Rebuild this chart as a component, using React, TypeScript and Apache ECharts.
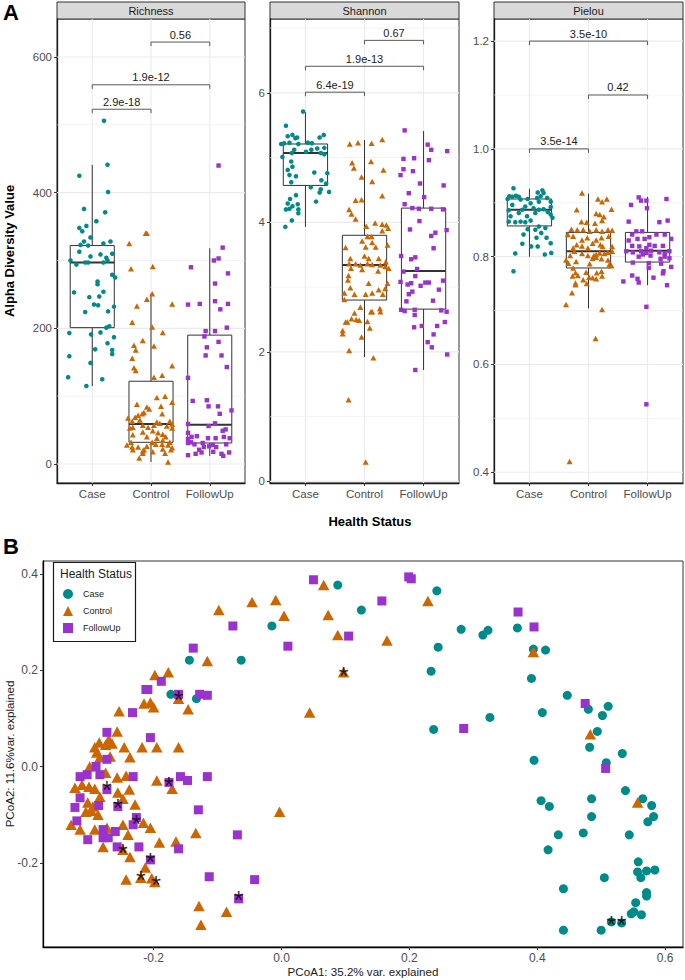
import React, { useEffect, useRef } from "react";
import * as echarts from "echarts";

const FONT = "'Liberation Sans', Arial, Helvetica, sans-serif";

const groups = ["Case", "Control", "FollowUp"];
const groupColors = ["#008B8B", "#CD6600", "#9A32CD"];
const groupSymbols = ["circle", "triangle", "rect"];
const facetNames = ["Richness", "Shannon", "Pielou"];

// ---------- Richness ----------
const richTicks = [0, 200, 400, 600];
const richMinor = [100, 300, 500];
// [q1, median, q3, lower whisker, upper whisker]
const richBox = [
  [201, 297, 322, 115, 441],
  [32, 59, 122, 3, 251],
  [31, 58, 190, 12, 318],
];
const richBrackets = [[1, 2, 523], [1, 3, 559], [2, 3, 622]];
const richBracketLabels = ["2.9e-18", "1.9e-12", "0.56"];
// [jitter, value]
const richCase = [[0.20,506],[0.26,441],[-0.22,425],[0.27,401],[-0.14,376],[0.22,371],[0.07,358],[-0.22,348],[-0.17,343],[-0.10,351],[-0.03,334],[-0.14,328],[-0.20,323],[-0.07,322],[0.19,325],[0.31,328],[-0.22,313],[-0.03,306],[0.14,309],[0.24,304],[0.34,310],[-0.37,300],[-0.27,294],[-0.12,297],[-0.07,297],[0.19,297],[0.26,300],[0.34,279],[0.39,275],[0.09,269],[0.09,265],[-0.31,253],[0.19,254],[-0.05,246],[0.12,247],[0.03,235],[0.10,234],[0.37,232],[-0.12,224],[0.27,225],[0.24,201],[0.29,203],[-0.39,193],[0.14,194],[-0.02,191],[0.37,187],[0.05,169],[0.26,178],[0.34,168],[0.34,162],[-0.39,159],[-0.03,149],[-0.41,128],[0.17,125],[-0.10,115]];
const richControl = [[-0.37,325],[-0.09,340],[-0.07,340],[-0.34,288],[0.03,291],[0.02,251],[-0.07,243],[0.36,236],[-0.24,233],[-0.32,209],[0.02,202],[0.20,194],[-0.14,182],[-0.29,175],[-0.26,168],[0.05,174],[-0.32,156],[-0.29,142],[-0.26,138],[0.36,145],[0.05,128],[0.19,131],[0.10,98],[0.24,100],[0.36,91],[-0.24,88],[0.17,85],[-0.07,84],[-0.03,81],[-0.12,76],[0.19,74],[-0.27,69],[-0.22,72],[-0.15,74],[-0.39,68],[-0.32,63],[-0.19,65],[0.10,62],[0.15,60],[0.32,63],[0.36,59],[-0.36,53],[-0.31,54],[-0.14,57],[-0.05,54],[0.05,57],[0.27,56],[0.36,53],[-0.14,47],[0.03,49],[0.12,46],[0.20,44],[-0.31,43],[-0.07,40],[0.10,38],[0.25,40],[-0.34,32],[0.02,32],[0.20,35],[0.32,32],[0.29,28],[-0.41,28],[-0.32,25],[-0.22,25],[-0.07,26],[0.08,29],[0.19,29],[-0.31,21],[-0.12,21],[0.03,18],[0.20,22],[0.36,24],[0.34,21],[-0.14,19],[-0.20,9],[0.29,3],[-0.14,16],[0.24,16]];
const richFollow = [[0.15,440],[0.22,319],[0.07,300],[0.15,303],[-0.32,290],[0.31,281],[0.09,266],[-0.37,235],[-0.17,236],[0.09,240],[0.31,236],[0.18,228],[0.29,201],[-0.07,196],[0.09,196],[-0.09,188],[0.15,180],[-0.05,172],[-0.07,160],[0.20,160],[0.29,143],[-0.37,127],[-0.29,93],[-0.05,94],[-0.02,85],[0.14,85],[0.37,79],[0.17,74],[0.09,60],[-0.37,59],[-0.02,56],[0.22,49],[0.27,51],[-0.37,46],[-0.31,40],[-0.22,41],[-0.37,37],[-0.32,32],[-0.37,31],[-0.03,38],[0.10,38],[0.24,40],[0.34,38],[-0.26,29],[-0.12,31],[0.05,28],[-0.10,25],[-0.01,26],[0.11,25],[0.28,29],[-0.37,13],[-0.24,15],[-0.18,21],[-0.14,17],[0.06,18],[0.20,15],[0.23,12],[0.33,17]];

// ---------- Shannon ----------
const shanTicks = [0, 2, 4, 6];
const shanMinor = [1, 3, 5, 7];
const shanBox = [
  [4.57, 5.07, 5.21, 3.93, 5.70],
  [2.80, 3.34, 3.80, 1.92, 5.27],
  [2.66, 3.25, 4.22, 1.72, 5.41],
];
const shanBrackets = [[1, 2, 6.01], [1, 3, 6.41], [2, 3, 6.81]];
const shanBracketLabels = ["6.4e-19", "1.9e-13", "0.67"];
const shanCase = [[-0.04,5.71],[-0.33,5.49],[-0.30,5.33],[-0.22,5.35],[-0.17,5.30],[-0.14,5.31],[-0.41,5.21],[-0.36,5.22],[-0.27,5.23],[-0.12,5.21],[0.04,5.23],[0.11,5.22],[0.24,5.31],[0.31,5.35],[0.01,5.09],[0.10,5.12],[0.20,5.14],[0.32,5.15],[0.26,5.07],[-0.19,5.12],[-0.23,5.07],[-0.39,5.01],[0.32,5.05],[-0.24,4.94],[-0.22,4.86],[-0.30,4.81],[0.15,4.77],[0.37,4.76],[-0.27,4.73],[-0.16,4.71],[-0.24,4.62],[0.27,4.65],[0.35,4.60],[0.09,4.54],[0.26,4.51],[0.40,4.47],[0.24,4.46],[-0.16,4.42],[-0.26,4.36],[0.18,4.32],[-0.30,4.29],[-0.22,4.25],[-0.27,4.21],[-0.33,4.20],[-0.12,4.20],[-0.13,4.28],[-0.12,4.14],[-0.23,4.03],[-0.34,3.93]];
const shanControl = [[-0.25,5.21],[-0.11,5.23],[0.12,5.22],[0.30,5.28],[-0.21,4.92],[-0.18,4.84],[0.11,4.94],[0.32,4.81],[-0.05,4.70],[0.13,4.63],[-0.15,4.34],[-0.05,4.35],[0.30,4.41],[-0.26,4.20],[-0.22,4.13],[-0.15,4.05],[0.18,3.99],[0.30,3.97],[0.37,3.96],[0.40,3.91],[0.30,3.87],[0.03,3.94],[0.12,3.78],[0.05,3.78],[-0.04,3.71],[0.13,3.69],[0.39,3.65],[-0.32,3.61],[0.02,3.62],[0.19,3.62],[-0.24,3.44],[-0.15,3.36],[0.00,3.48],[0.07,3.44],[0.24,3.44],[0.36,3.39],[0.35,3.32],[0.27,3.34],[0.13,3.35],[0.05,3.36],[-0.07,3.34],[-0.26,3.36],[-0.23,3.29],[-0.04,3.27],[0.23,3.25],[0.41,3.29],[-0.27,3.18],[0.07,3.06],[-0.28,3.11],[-0.24,2.99],[-0.17,2.89],[0.02,2.89],[0.13,2.91],[0.24,2.96],[0.35,2.98],[0.39,3.06],[-0.34,2.91],[0.31,2.89],[-0.34,2.81],[-0.07,2.69],[0.26,2.67],[0.11,2.62],[0.27,2.62],[0.13,2.62],[-0.17,2.60],[-0.22,2.51],[-0.14,2.50],[-0.09,2.49],[-0.32,2.46],[-0.29,2.46],[0.05,2.47],[0.09,2.37],[-0.37,2.33],[-0.37,2.28],[-0.05,2.23],[-0.26,2.02],[0.15,1.91],[-0.27,1.26],[0.02,0.30]];
const shanFollow = [[-0.32,5.42],[0.07,5.20],[0.13,5.12],[0.40,5.10],[-0.34,4.98],[-0.16,4.99],[0.09,4.96],[-0.34,4.82],[-0.18,4.79],[-0.39,4.73],[-0.06,4.60],[0.34,4.57],[-0.25,4.45],[0.01,4.39],[-0.32,4.28],[-0.19,4.22],[-0.08,4.21],[0.13,4.21],[0.33,4.20],[-0.07,4.02],[-0.23,3.89],[0.20,3.84],[0.13,3.79],[0.39,3.88],[0.17,3.60],[-0.38,3.48],[-0.21,3.43],[-0.14,3.46],[-0.34,3.24],[-0.11,3.28],[-0.14,3.17],[-0.39,3.08],[-0.27,3.04],[-0.21,3.06],[-0.05,3.02],[0.03,3.07],[0.09,3.07],[0.33,3.10],[0.26,2.96],[-0.19,2.93],[-0.25,2.89],[-0.29,2.78],[0.16,2.79],[-0.38,2.65],[-0.32,2.63],[-0.15,2.65],[0.30,2.64],[0.39,2.62],[-0.15,2.57],[0.36,2.46],[0.23,2.40],[-0.16,2.38],[-0.03,2.40],[0.17,2.27],[0.07,2.15],[0.14,2.07],[0.40,1.96],[-0.14,1.72]];

// ---------- Pielou ----------
const pielTicks = [0.4, 0.6, 0.8, 1.0, 1.2];
const pielMinor = [0.5, 0.7, 0.9, 1.1];
const pielBox = [
  [0.857, 0.887, 0.907, 0.80, 0.926],
  [0.779, 0.810, 0.845, 0.704, 0.917],
  [0.790, 0.811, 0.845, 0.747, 0.911],
];
const pielBrackets = [[1, 2, 1.0], [2, 3, 1.1], [1, 3, 1.2]];
const pielBracketLabels = ["3.5e-14", "0.42", "3.5e-10"];
const pielCase = [[-0.27,0.927],[-0.37,0.907],[-0.34,0.912],[-0.29,0.911],[-0.23,0.913],[-0.18,0.911],[-0.15,0.906],[0.14,0.919],[0.22,0.923],[0.24,0.918],[0.19,0.912],[0.13,0.909],[-0.03,0.907],[0.02,0.899],[0.16,0.902],[0.30,0.909],[0.36,0.902],[0.07,0.890],[-0.07,0.893],[-0.12,0.887],[-0.18,0.881],[-0.35,0.886],[-0.29,0.896],[0.36,0.892],[0.31,0.883],[0.24,0.888],[0.16,0.887],[0.10,0.881],[-0.04,0.875],[0.36,0.878],[0.39,0.872],[0.02,0.867],[-0.07,0.864],[-0.15,0.865],[-0.24,0.864],[0.16,0.856],[0.27,0.853],[0.10,0.850],[0.20,0.844],[-0.03,0.851],[-0.10,0.841],[0.12,0.835],[0.29,0.835],[0.36,0.825],[0.14,0.819],[0.03,0.819],[-0.12,0.824],[-0.32,0.875],[-0.35,0.865],[-0.24,0.806],[0.26,0.804],[0.37,0.807],[-0.27,0.773]];
const pielControl = [[-0.11,0.918],[0.16,0.907],[0.23,0.902],[0.31,0.907],[-0.20,0.887],[0.39,0.888],[0.13,0.880],[0.19,0.878],[0.26,0.874],[-0.12,0.865],[-0.03,0.864],[0.11,0.862],[0.23,0.867],[-0.29,0.851],[-0.19,0.850],[-0.09,0.850],[0.02,0.847],[0.13,0.850],[0.23,0.847],[0.33,0.850],[0.40,0.849],[-0.35,0.841],[-0.26,0.838],[-0.11,0.831],[-0.02,0.835],[0.13,0.831],[0.22,0.835],[0.34,0.838],[-0.20,0.822],[-0.11,0.820],[0.07,0.825],[0.20,0.822],[0.24,0.819],[-0.26,0.816],[-0.01,0.816],[0.40,0.819],[-0.24,0.810],[-0.11,0.806],[-0.01,0.802],[0.09,0.802],[0.13,0.804],[0.19,0.807],[0.27,0.806],[0.33,0.808],[0.40,0.810],[-0.38,0.794],[-0.34,0.788],[-0.21,0.791],[-0.26,0.779],[0.07,0.797],[0.13,0.799],[0.22,0.796],[0.33,0.794],[0.35,0.785],[0.39,0.783],[-0.31,0.802],[0.02,0.787],[-0.22,0.770],[-0.18,0.765],[-0.27,0.764],[-0.04,0.771],[0.01,0.762],[0.07,0.761],[0.14,0.770],[0.22,0.773],[0.23,0.764],[0.13,0.759],[-0.22,0.751],[-0.22,0.748],[-0.09,0.757],[-0.03,0.750],[-0.28,0.733],[-0.38,0.711],[0.23,0.702],[0.12,0.648],[-0.32,0.420]];
const pielFollow = [[-0.15,0.910],[-0.11,0.904],[-0.02,0.904],[0.32,0.907],[-0.28,0.896],[-0.01,0.890],[0.20,0.864],[0.34,0.867],[-0.32,0.865],[-0.19,0.847],[-0.09,0.847],[-0.26,0.841],[-0.17,0.833],[-0.05,0.833],[0.03,0.836],[0.15,0.841],[0.29,0.841],[0.40,0.833],[-0.32,0.830],[-0.26,0.820],[-0.14,0.819],[0.03,0.822],[0.12,0.820],[0.26,0.820],[-0.02,0.816],[-0.36,0.810],[-0.25,0.808],[-0.11,0.810],[-0.02,0.807],[0.06,0.811],[0.20,0.808],[0.29,0.806],[0.37,0.810],[-0.15,0.800],[-0.08,0.804],[0.05,0.802],[0.22,0.796],[0.29,0.800],[0.37,0.797],[0.02,0.788],[-0.25,0.789],[0.23,0.787],[0.40,0.781],[0.02,0.779],[0.10,0.761],[0.27,0.773],[0.26,0.769],[-0.41,0.754],[-0.26,0.765],[-0.17,0.759],[-0.15,0.752],[0.33,0.747],[-0.02,0.707],[-0.02,0.526]];

// ---------- Panel B (PCoA) ----------
const pcoaXTicks = [-0.2, 0.0, 0.2, 0.4, 0.6];
const pcoaYTicks = [-0.2, 0.0, 0.2, 0.4];
const pcoaCase = [[0.088,0.377],[0.243,0.365],[0.125,0.325],[-0.015,0.292],[-0.144,0.221],[-0.063,0.221],[-0.173,0.150],[-0.133,0.141],[0.281,0.285],[0.315,0.273],[0.323,0.283],[0.369,0.288],[0.245,0.248],[0.394,0.244],[0.413,0.242],[0.234,0.198],[0.391,0.183],[0.447,0.148],[0.480,0.119],[0.502,0.106],[0.511,0.125],[0.408,0.112],[0.326,0.102],[0.238,0.077],[0.494,0.073],[0.482,0.040],[0.533,0.027],[0.395,0.013],[0.508,0.008],[0.538,-0.050],[0.565,-0.067],[0.579,-0.081],[0.406,-0.071],[0.419,-0.083],[0.485,-0.067],[0.485,-0.104],[0.582,-0.104],[0.573,-0.115],[0.433,-0.142],[0.472,-0.138],[0.544,-0.142],[0.417,-0.173],[0.558,-0.198],[0.557,-0.219],[0.562,-0.231],[0.571,-0.217],[0.584,-0.215],[0.505,-0.231],[0.441,-0.254],[0.571,-0.262],[0.571,-0.269],[0.554,-0.283],[0.551,-0.302],[0.547,-0.306],[0.563,-0.308],[0.516,-0.323],[0.532,-0.325],[0.500,-0.340],[0.441,-0.340]];
const pcoaControl = [[0.066,0.377],[-0.046,0.342],[-0.009,0.346],[-0.098,0.325],[0.004,0.313],[0.073,0.315],[0.088,0.273],[-0.116,0.219],[-0.198,0.190],[-0.177,0.196],[-0.161,0.141],[-0.215,0.131],[-0.205,0.133],[-0.200,0.123],[-0.146,0.119],[-0.254,0.115],[0.044,0.112],[-0.257,0.073],[0.229,0.344],[0.165,0.262],[0.097,0.196],[0.394,0.238],[0.483,0.067],[0.557,-0.075],[-0.285,0.050],[-0.275,0.045],[-0.265,0.048],[-0.270,0.056],[-0.292,0.040],[-0.246,0.040],[-0.218,0.040],[-0.195,0.040],[-0.161,0.040],[-0.289,0.029],[-0.268,0.021],[-0.284,0.019],[-0.237,0.019],[-0.300,0.000],[-0.275,-0.013],[-0.257,-0.023],[-0.243,-0.019],[-0.195,-0.029],[-0.171,-0.046],[-0.323,-0.044],[-0.312,-0.038],[-0.301,-0.042],[-0.292,-0.046],[-0.284,-0.063],[-0.256,-0.054],[-0.238,-0.048],[-0.248,-0.067],[-0.229,-0.079],[-0.303,-0.075],[-0.295,-0.083],[-0.306,-0.094],[-0.297,-0.092],[-0.287,-0.100],[-0.003,-0.094],[-0.329,-0.121],[-0.315,-0.131],[-0.248,-0.121],[-0.216,-0.117],[-0.205,-0.127],[-0.292,-0.131],[-0.273,-0.127],[-0.240,-0.142],[-0.279,-0.167],[-0.248,-0.173],[-0.191,-0.158],[-0.165,-0.156],[-0.134,-0.138],[-0.237,-0.188],[-0.213,-0.210],[-0.243,-0.235],[-0.220,-0.231],[-0.198,-0.240],[-0.203,-0.232],[-0.129,-0.290],[-0.086,-0.302],[-0.126,-0.329]];
const pcoaFollow = [[0.050,0.388],[0.199,0.394],[0.203,0.390],[0.157,0.344],[0.105,0.271],[0.370,0.321],[0.395,0.290],[0.285,0.079],[0.475,0.131],[0.507,-0.004],[-0.076,0.292],[0.010,0.250],[-0.138,0.246],[-0.188,0.177],[-0.212,0.160],[-0.209,0.160],[-0.161,0.150],[-0.128,0.150],[-0.116,0.148],[-0.233,0.112],[-0.273,0.071],[-0.205,0.060],[-0.273,0.015],[-0.290,0.000],[-0.315,-0.021],[-0.304,-0.017],[-0.284,-0.017],[-0.232,-0.021],[-0.176,-0.033],[-0.158,-0.021],[-0.147,-0.029],[-0.116,-0.021],[-0.273,-0.048],[-0.315,-0.065],[-0.256,-0.083],[-0.323,-0.085],[-0.286,-0.081],[-0.130,-0.090],[-0.320,-0.113],[-0.227,-0.106],[-0.232,-0.121],[-0.279,-0.131],[-0.279,-0.148],[-0.271,-0.148],[-0.260,-0.135],[-0.303,-0.152],[-0.257,-0.167],[-0.223,-0.167],[-0.161,-0.171],[-0.069,-0.142],[-0.205,-0.194],[-0.113,-0.229],[-0.042,-0.235],[-0.067,-0.275]];
const pcoaStars = [[-0.161,0.150],[0.097,0.200],[-0.273,-0.037],[-0.256,-0.073],[-0.227,-0.106],[-0.248,-0.167],[-0.176,-0.029],[-0.205,-0.185],[-0.220,-0.223],[-0.196,-0.233],[-0.067,-0.265],[0.516,-0.317],[0.532,-0.317]];

const facetData = [
  { ticks: richTicks, minor: richMinor, box: richBox, br: richBrackets, brl: richBracketLabels, pts: [richCase, richControl, richFollow], fmt: (v: number) => String(v) },
  { ticks: shanTicks, minor: shanMinor, box: shanBox, br: shanBrackets, brl: shanBracketLabels, pts: [shanCase, shanControl, shanFollow], fmt: (v: number) => String(v) },
  { ticks: pielTicks, minor: pielMinor, box: pielBox, br: pielBrackets, brl: pielBracketLabels, pts: [pielCase, pielControl, pielFollow], fmt: (v: number) => v.toFixed(1) },
];

const facetLayout = [
  { left: 57, width: 188, min: -28, max: 656 },
  { left: 270, width: 189, min: -0.025, max: 7.14 },
  { left: 494, width: 189, min: 0.38, max: 1.241 },
];

const A_TOP = 19;
const A_H = 464;

function buildOption() {
  const grid: any[] = [];
  const xAxis: any[] = [];
  const yAxis: any[] = [];
  const series: any[] = [];
  const graphic: any[] = [];

  facetData.forEach((f, gi) => {
    const L = facetLayout[gi];
    grid.push({ left: L.left, top: A_TOP, width: L.width, height: A_H, show: true, borderColor: "#333333", borderWidth: 1, backgroundColor: "#ffffff" });
    xAxis.push({
      type: "value", gridIndex: gi, min: 0.4, max: 3.6,
      axisLine: { show: true, onZero: false, lineStyle: { color: "#1a1a1a", width: 1.3 } },
      axisTick: { show: true, length: 3, customValues: [1, 2, 3], lineStyle: { color: "#333333" } },
      axisLabel: { customValues: [1, 2, 3], formatter: (v: number) => groups[Math.round(v) - 1], fontSize: 11.5, color: "#4d4d4d", fontFamily: FONT, margin: 5 },
      splitLine: { show: false },
    });
    yAxis.push({
      type: "value", gridIndex: gi, min: L.min, max: L.max,
      axisLine: { show: true, onZero: false, lineStyle: { color: "#1a1a1a", width: 1.3 } },
      axisTick: { show: true, length: 3, customValues: f.ticks, lineStyle: { color: "#333333" } },
      axisLabel: { customValues: f.ticks, formatter: f.fmt, fontSize: 11.5, color: "#4d4d4d", fontFamily: FONT, margin: 5 },
      splitLine: { show: false },
    });
    // horizontal grid lines
    series.push({
      type: "custom", name: "hgrid" + gi, xAxisIndex: gi, yAxisIndex: gi, z: 1, silent: true,
      data: [...f.ticks.map((v) => [2, v, 0]), ...f.minor.map((v) => [2, v, 1])],
      renderItem: (params: any, api: any) => {
        const cs = params.coordSys;
        const y = api.coord([2, api.value(1)])[1];
        const minor = api.value(2) === 1;
        return { type: "line", shape: { x1: cs.x, y1: y, x2: cs.x + cs.width, y2: y }, style: { stroke: "#EBEBEB", lineWidth: minor ? 0.6 : 1.1 } };
      },
    });
    // vertical grid lines
    series.push({
      type: "custom", name: "vgrid" + gi, xAxisIndex: gi, yAxisIndex: gi, z: 1, silent: true,
      data: [1, 2, 3].map((c) => [c, f.ticks[0]]),
      renderItem: (params: any, api: any) => {
        const cs = params.coordSys;
        const x = api.coord([api.value(0), api.value(1)])[0];
        return { type: "line", shape: { x1: x, y1: cs.y, x2: x, y2: cs.y + cs.height }, style: { stroke: "#EBEBEB", lineWidth: 1.1 } };
      },
    });
    // boxplots
    series.push({
      type: "custom", name: "box" + gi, xAxisIndex: gi, yAxisIndex: gi, z: 2, silent: true,
      data: f.box.map((b, i) => [i + 1, ...b]),
      renderItem: (params: any, api: any) => {
        const x = api.value(0);
        const q1 = api.value(1), med = api.value(2), q3 = api.value(3), lo = api.value(4), hi = api.value(5);
        const tl = api.coord([x - 0.375, q3]);
        const br = api.coord([x + 0.375, q1]);
        const pm = api.coord([x, med]);
        const plo = api.coord([x, lo]);
        const phi = api.coord([x, hi]);
        const c = pm[0];
        const st = { stroke: "#333333", lineWidth: 1 };
        return {
          type: "group",
          children: [
            { type: "line", shape: { x1: c, y1: phi[1], x2: c, y2: tl[1] }, style: st },
            { type: "line", shape: { x1: c, y1: br[1], x2: c, y2: plo[1] }, style: st },
            { type: "rect", shape: { x: tl[0], y: tl[1], width: br[0] - tl[0], height: br[1] - tl[1] }, style: { fill: "#ffffff", stroke: "#333333", lineWidth: 1 } },
            { type: "line", shape: { x1: tl[0], y1: pm[1], x2: br[0], y2: pm[1] }, style: { stroke: "#333333", lineWidth: 2 } },
          ],
        };
      },
    });
    // jittered points
    f.pts.forEach((pts, k) => {
      series.push({
        type: "scatter", name: facetNames[gi] + " " + groups[k], xAxisIndex: gi, yAxisIndex: gi, z: 3, silent: true,
        symbol: groupSymbols[k], symbolSize: k === 1 ? [6, 5.5] : k === 0 ? 4.6 : 4.4,
        itemStyle: { color: groupColors[k], opacity: 1 },
        data: pts.map(([j, v]) => [k + 1 + j, v]),
      });
    });
    // brackets
    const labels = f.brl;
    series.push({
      type: "custom", name: "brackets" + gi, xAxisIndex: gi, yAxisIndex: gi, z: 4, silent: true,
      data: f.br,
      renderItem: (params: any, api: any) => {
        const p1 = api.coord([api.value(0), api.value(2)]);
        const p2 = api.coord([api.value(1), api.value(2)]);
        return {
          type: "group",
          children: [
            { type: "polyline", shape: { points: [[p1[0], p1[1] + 4], [p1[0], p1[1]], [p2[0], p2[1]], [p2[0], p2[1] + 4]] }, style: { stroke: "#595959", lineWidth: 1, fill: null } },
            { type: "text", x: (p1[0] + p2[0]) / 2, y: p1[1] - 2, style: { text: labels[params.dataIndex], align: "center", verticalAlign: "bottom", fontSize: 11, fontFamily: FONT, fill: "#1a1a1a" } },
          ],
        };
      },
    });
    // strip
    graphic.push({ type: "rect", shape: { x: L.left, y: 2, width: L.width, height: 17 }, style: { fill: "#D9D9D9", stroke: "#333333", lineWidth: 1 }, silent: true });
    graphic.push({ type: "text", x: L.left + L.width / 2, y: 10.5, style: { text: facetNames[gi], align: "center", verticalAlign: "middle", fontSize: 11, fontFamily: FONT, fill: "#1a1a1a" }, silent: true });
  });

  // Panel B
  const gB = 3;
  grid.push({ left: 43, top: 561, width: 640, height: 386, show: true, borderColor: "#333333", borderWidth: 1, backgroundColor: "#ffffff" });
  xAxis.push({
    type: "value", gridIndex: gB, min: -0.373, max: 0.628,
    axisLine: { show: true, onZero: false, lineStyle: { color: "#000000", width: 1.3 } },
    axisTick: { show: true, length: 3, customValues: pcoaXTicks, lineStyle: { color: "#333333" } },
    axisLabel: { customValues: pcoaXTicks, formatter: (v: number) => v.toFixed(1), fontSize: 12, color: "#4d4d4d", fontFamily: FONT, margin: 5 },
    splitLine: { show: false },
  });
  yAxis.push({
    type: "value", gridIndex: gB, min: -0.375, max: 0.427,
    axisLine: { show: true, onZero: false, lineStyle: { color: "#000000", width: 1.3 } },
    axisTick: { show: true, length: 3, customValues: pcoaYTicks, lineStyle: { color: "#333333" } },
    axisLabel: { customValues: pcoaYTicks, formatter: (v: number) => v.toFixed(1), fontSize: 12, color: "#4d4d4d", fontFamily: FONT, margin: 5 },
    splitLine: { show: false },
  });
  const pcoaSets = [pcoaCase, pcoaControl, pcoaFollow];
  const pcoaSizes: any[] = [9, [11.5, 10.5], 9];
  pcoaSets.forEach((pts, k) => {
    series.push({
      type: "scatter", name: groups[k], xAxisIndex: gB, yAxisIndex: gB, z: 3, silent: true,
      symbol: groupSymbols[k], symbolSize: pcoaSizes[k],
      itemStyle: { color: groupColors[k], opacity: 1 },
      data: pts,
    });
  });
  series.push({
    type: "scatter", name: "significant", xAxisIndex: gB, yAxisIndex: gB, z: 5, silent: true,
    symbol: "circle", symbolSize: 1, itemStyle: { color: "rgba(0,0,0,0)" },
    label: { show: true, position: "inside", formatter: () => "*", fontSize: 25, color: "#000000", fontFamily: FONT, offset: [0, 6] },
    data: pcoaStars,
  });

  // titles and labels
  graphic.push({ type: "text", x: 3, y: 1, style: { text: "A", fontSize: 22, fontWeight: "bold", fontFamily: FONT, fill: "#000000" }, silent: true });
  graphic.push({ type: "text", x: 3, y: 535, style: { text: "B", fontSize: 22, fontWeight: "bold", fontFamily: FONT, fill: "#000000" }, silent: true });
  graphic.push({ type: "text", x: 9, y: 251, rotation: Math.PI / 2, style: { text: "Alpha Diversity Value", align: "center", verticalAlign: "middle", fontSize: 13, fontWeight: "bold", fontFamily: FONT, fill: "#000000" }, silent: true });
  graphic.push({ type: "text", x: 370, y: 521, style: { text: "Health Status", align: "center", verticalAlign: "middle", fontSize: 13, fontWeight: "bold", fontFamily: FONT, fill: "#000000" }, silent: true });
  graphic.push({ type: "text", x: 363, y: 971, style: { text: "PCoA1: 35.2% var. explained", align: "center", verticalAlign: "middle", fontSize: 11.6, fontFamily: FONT, fill: "#1a1a1a" }, silent: true });
  graphic.push({ type: "text", x: 9, y: 754, rotation: Math.PI / 2, style: { text: "PCoA2: 11.6%var. explained", align: "center", verticalAlign: "middle", fontSize: 11.6, fontFamily: FONT, fill: "#1a1a1a" }, silent: true });
  // legend box
  graphic.push({ type: "rect", z: 10, shape: { x: 53.5, y: 562.5, width: 82, height: 79 }, style: { fill: "#ffffff", stroke: "#1a1a1a", lineWidth: 1.2 }, silent: true });
  graphic.push({ type: "text", z: 11, x: 60, y: 574, style: { text: "Health Status", verticalAlign: "middle", fontSize: 12, fontFamily: FONT, fill: "#1a1a1a" }, silent: true });

  return {
    animation: false,
    backgroundColor: "#ffffff",
    textStyle: { fontFamily: FONT },
    grid, xAxis, yAxis, series, graphic,
    legend: {
      show: true, orient: "vertical", left: 63, top: 589, padding: 0, z: 12,
      itemWidth: 10, itemHeight: 10, itemGap: 7, selectedMode: false,
      data: [
        { name: "Case", icon: "circle" },
        { name: "Control", icon: "triangle" },
        { name: "FollowUp", icon: "rect" },
      ],
      textStyle: { fontSize: 9, color: "#1a1a1a", fontFamily: FONT, padding: [0, 0, 0, 5] },
    },
  };
}

export default function App() {
  const ref = useRef<HTMLDivElement>(null);
  useEffect(() => {
    if (!ref.current) return;
    const chart = echarts.init(ref.current, null, { renderer: "svg" });
    chart.setOption(buildOption() as any);
    return () => chart.dispose();
  }, []);
  return <div ref={ref} style={{ position: "absolute", left: 0, top: 0, width: 685, height: 980 }} />;
}
